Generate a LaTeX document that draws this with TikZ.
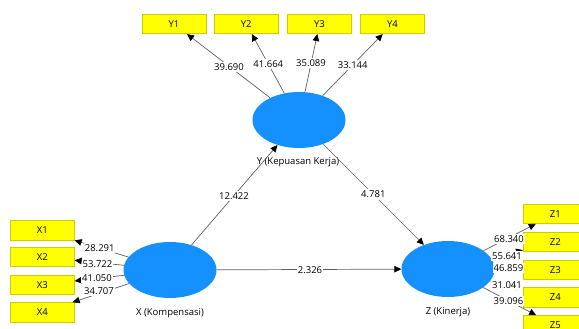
\documentclass[tikz,border=0pt]{standalone}
\usepackage{fontspec}
\setmainfont{Open Sans}
\usetikzlibrary{arrows.meta,shapes.geometric}
\definecolor{latblue}{RGB}{20,144,255}
\definecolor{indyellow}{RGB}{255,255,0}
\definecolor{indborder}{RGB}{205,205,0}
\definecolor{linegray}{RGB}{95,95,95}
\begin{document}
\begin{tikzpicture}[x=1pt,y=-1pt,
  ind/.style={draw=indborder, fill=indyellow, line width=0.6pt, minimum width=64pt, minimum height=19.5pt, inner sep=0pt, font=\fontsize{9.5}{10}\selectfont},
  lat/.style={ellipse, fill=latblue, minimum width=93pt, minimum height=56pt, inner sep=0pt},
  lbl/.style={fill=white, inner xsep=0.8pt, inner ysep=1.6pt, font=\fontsize{9.5}{11}\selectfont},
  nm/.style={inner sep=0pt, font=\fontsize{9.5}{11}\selectfont},
  con/.style={draw=linegray, line width=0.7pt, -{Triangle[length=7pt,width=6.5pt,color=black]}},
]
\useasboundingbox (0,0) rectangle (579,329);
% latent variables
\node[lat] (Y) at (299,120) {};
\node[lat] (X) at (170,270) {};
\node[lat] (Z) at (448,269) {};
\node[nm] (Yn) at (298,162) {Y (Kepuasan Kerja)};
\node[nm] (Xn) at (170,313) {X (Kompensasi)};
\node[nm] (Zn) at (448,312) {Z (Kinerja)};
% indicators
\node[ind] (Y1) at (174,24) {Y1};
\node[ind] (Y2) at (246.3,24) {Y2};
\node[ind] (Y3) at (319.5,24) {Y3};
\node[ind] (Y4) at (392.5,24) {Y4};
\node[ind] (X1) at (42.3,230.3) {X1};
\node[ind] (X2) at (42.3,257) {X2};
\node[ind] (X3) at (42.3,284.7) {X3};
\node[ind] (X4) at (42.3,312.3) {X4};
\node[ind] (Z1) at (555.3,213.8) {Z1};
\node[ind] (Z2) at (555.3,242) {Z2};
\node[ind] (Z3) at (555.3,269.7) {Z3};
\node[ind] (Z4) at (555.3,297.3) {Z4};
\node[ind] (Z5) at (555.3,325.3) {Z5};
% connectors
\foreach \i in {1,...,4} {\draw[con] (Y) -- (Y\i);}
\foreach \i in {1,...,4} {\draw[con] (X) -- (X\i);}
\foreach \i in {1,...,5} {\draw[con] (Z) -- (Z\i);}
\draw[con] (X) -- (Y);
\draw[con] (Y) -- (Z);
\draw[con] (X) -- (Z);
% labels
\node[lbl] at (229,66.7) {39.690};
\node[lbl] at (268.3,64) {41.664};
\node[lbl] at (311,63) {35.089};
\node[lbl] at (352.7,65.3) {33.144};
\node[lbl] at (99.7,248.3) {28.291};
\node[lbl] at (97.5,264) {53.722};
\node[lbl] at (97,278) {41.050};
\node[lbl] at (99,291) {34.707};
\node[lbl] at (509,239) {68.340};
\node[lbl] at (507,255.7) {55.641};
\node[lbl] at (508.5,268.3) {46.859};
\node[lbl] at (507,285) {31.041};
\node[lbl] at (508.5,300.7) {39.096};
\node[lbl] at (234,195.7) {12.422};
\node[lbl] at (373.3,194.5) {4.781};
\node[lbl] at (310,270) {2.326};
\end{tikzpicture}
\end{document}
